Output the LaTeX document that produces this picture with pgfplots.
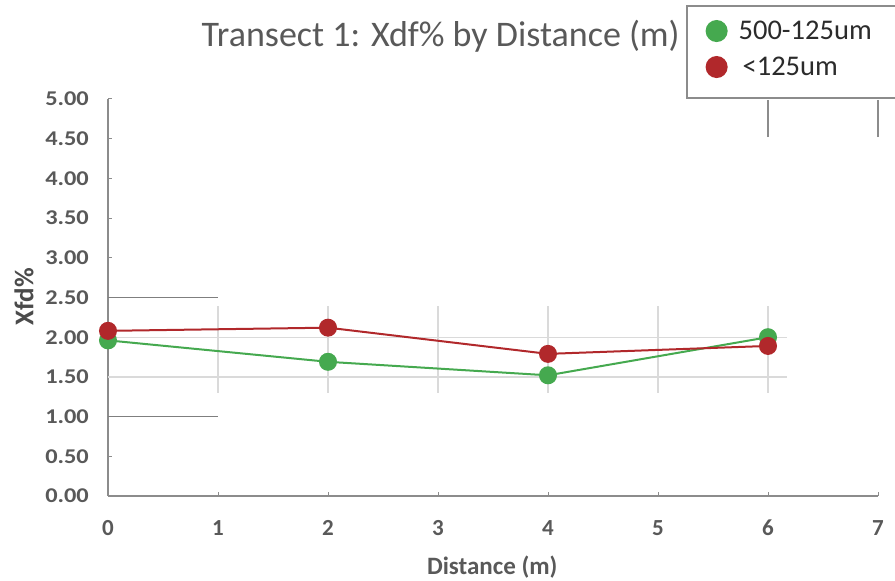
\documentclass[border=0pt]{standalone}
\usepackage{fontspec}
\setmainfont{Carlito}
\newfontfamily\widefont[FakeStretch=1.16]{Carlito}
\usepackage{pgfplots}
\pgfplotsset{compat=1.18}

\definecolor{axgray}{HTML}{8C8C8C}
\definecolor{labgray}{HTML}{595959}
\definecolor{gridlight}{HTML}{DADADA}
\definecolor{darkline}{HTML}{7F7F7F}
\definecolor{sgreen}{HTML}{45A94F}
\definecolor{sred}{HTML}{B1282B}
\definecolor{legtext}{HTML}{2B2B2B}

\begin{document}
\begin{tikzpicture}[x=1pt,y=1pt]
\useasboundingbox (0,0) rectangle (895,581);

% legend frame, running off the right edge
\draw[axgray, line width=1.5pt, fill=white] (687,575) rectangle (910,483);

\begin{axis}[
  at={(108pt,85pt)}, anchor=south west,
  scale only axis, width=770pt, height=397pt,
  xmin=0, xmax=7, ymin=0, ymax=5,
  axis lines=left,
  axis line style={-, draw=axgray, line width=1.2pt},
  xtick={0,1,...,7},
  ytick={0,0.5,...,5},
  tick align=inside,
  major tick length=4pt,
  every tick/.style={draw=axgray, line width=1pt},
  /pgf/number format/assume math mode=true,
  yticklabel style={font=\widefont\bfseries\fontsize{21}{21}\selectfont, text=labgray,
    /pgf/number format/fixed, /pgf/number format/fixed zerofill,
    /pgf/number format/precision=2, anchor=east, inner sep=0pt, xshift=-19pt},
  xticklabel style={font=\bfseries\fontsize{23}{23}\selectfont, text=labgray,
    anchor=center, yshift=-32pt},
  xlabel={Distance (m)},
  xlabel style={at={(axis description cs:0.499,-0.179)}, anchor=center,
    font=\bfseries\fontsize{25}{25}\selectfont, text=labgray},
  ylabel={Xfd\%},
  ylabel style={at={(axis description cs:-0.109,0.502)}, anchor=center,
    font=\bfseries\fontsize{27}{27}\selectfont, text=legtext!85},
  title={Transect 1: Xdf\% by Distance (m)},
  title style={at={(axis description cs:0.432,1.116)}, anchor=base,
    font=\fontsize{36}{36}\selectfont, text=labgray},
  legend style={at={(axis description cs:0.772,1.207)}, anchor=north west,
    draw=none, fill=none, font=\fontsize{28.5}{32}\selectfont, text=legtext,
    row sep=12pt, /tikz/every odd column/.append style={column sep=9pt}},
  legend cell align=left,
  legend image code/.code={\fill[#1] (4pt,0pt) circle (10pt);},
  clip=false,
]

% faint grid patch around the data band
\foreach \xx in {1,...,6} {
  \edef\temp{\noexpand\draw[gridlight, line width=1.3pt] (axis cs:\xx,1.30) -- (axis cs:\xx,2.39);}
  \temp
}
\draw[gridlight, line width=1.3pt] (axis cs:0,2.0) -- (axis cs:6.17,2.0);
\draw[gridlight, line width=1.3pt] (axis cs:0,1.5) -- (axis cs:6.17,1.5);

% darker reference segments
\draw[darkline, line width=1.2pt] (axis cs:0,2.5) -- (axis cs:1,2.5);
\draw[darkline, line width=1.2pt] (axis cs:0,1.0) -- (axis cs:1,1.0);

% short uprights under the legend
\draw[axgray, line width=1.2pt] (axis cs:6,4.52) -- (axis cs:6,4.99);
\draw[axgray, line width=1.2pt] (axis cs:7,4.52) -- (axis cs:7,4.99);

\addplot[sgreen, line width=2pt, mark=*, mark size=8pt,
  mark options={fill=sgreen, draw=sgreen}]
  coordinates {(0,1.96) (2,1.69) (4,1.52) (6,2.00)};
\addlegendentry{500-125um}

\addplot[sred, line width=2pt, mark=*, mark size=8pt,
  mark options={fill=sred, draw=sred}]
  coordinates {(0,2.08) (2,2.12) (4,1.79) (6,1.89)};
\addlegendentry{\hspace{4pt}<125um}

\end{axis}
\end{tikzpicture}
\end{document}
